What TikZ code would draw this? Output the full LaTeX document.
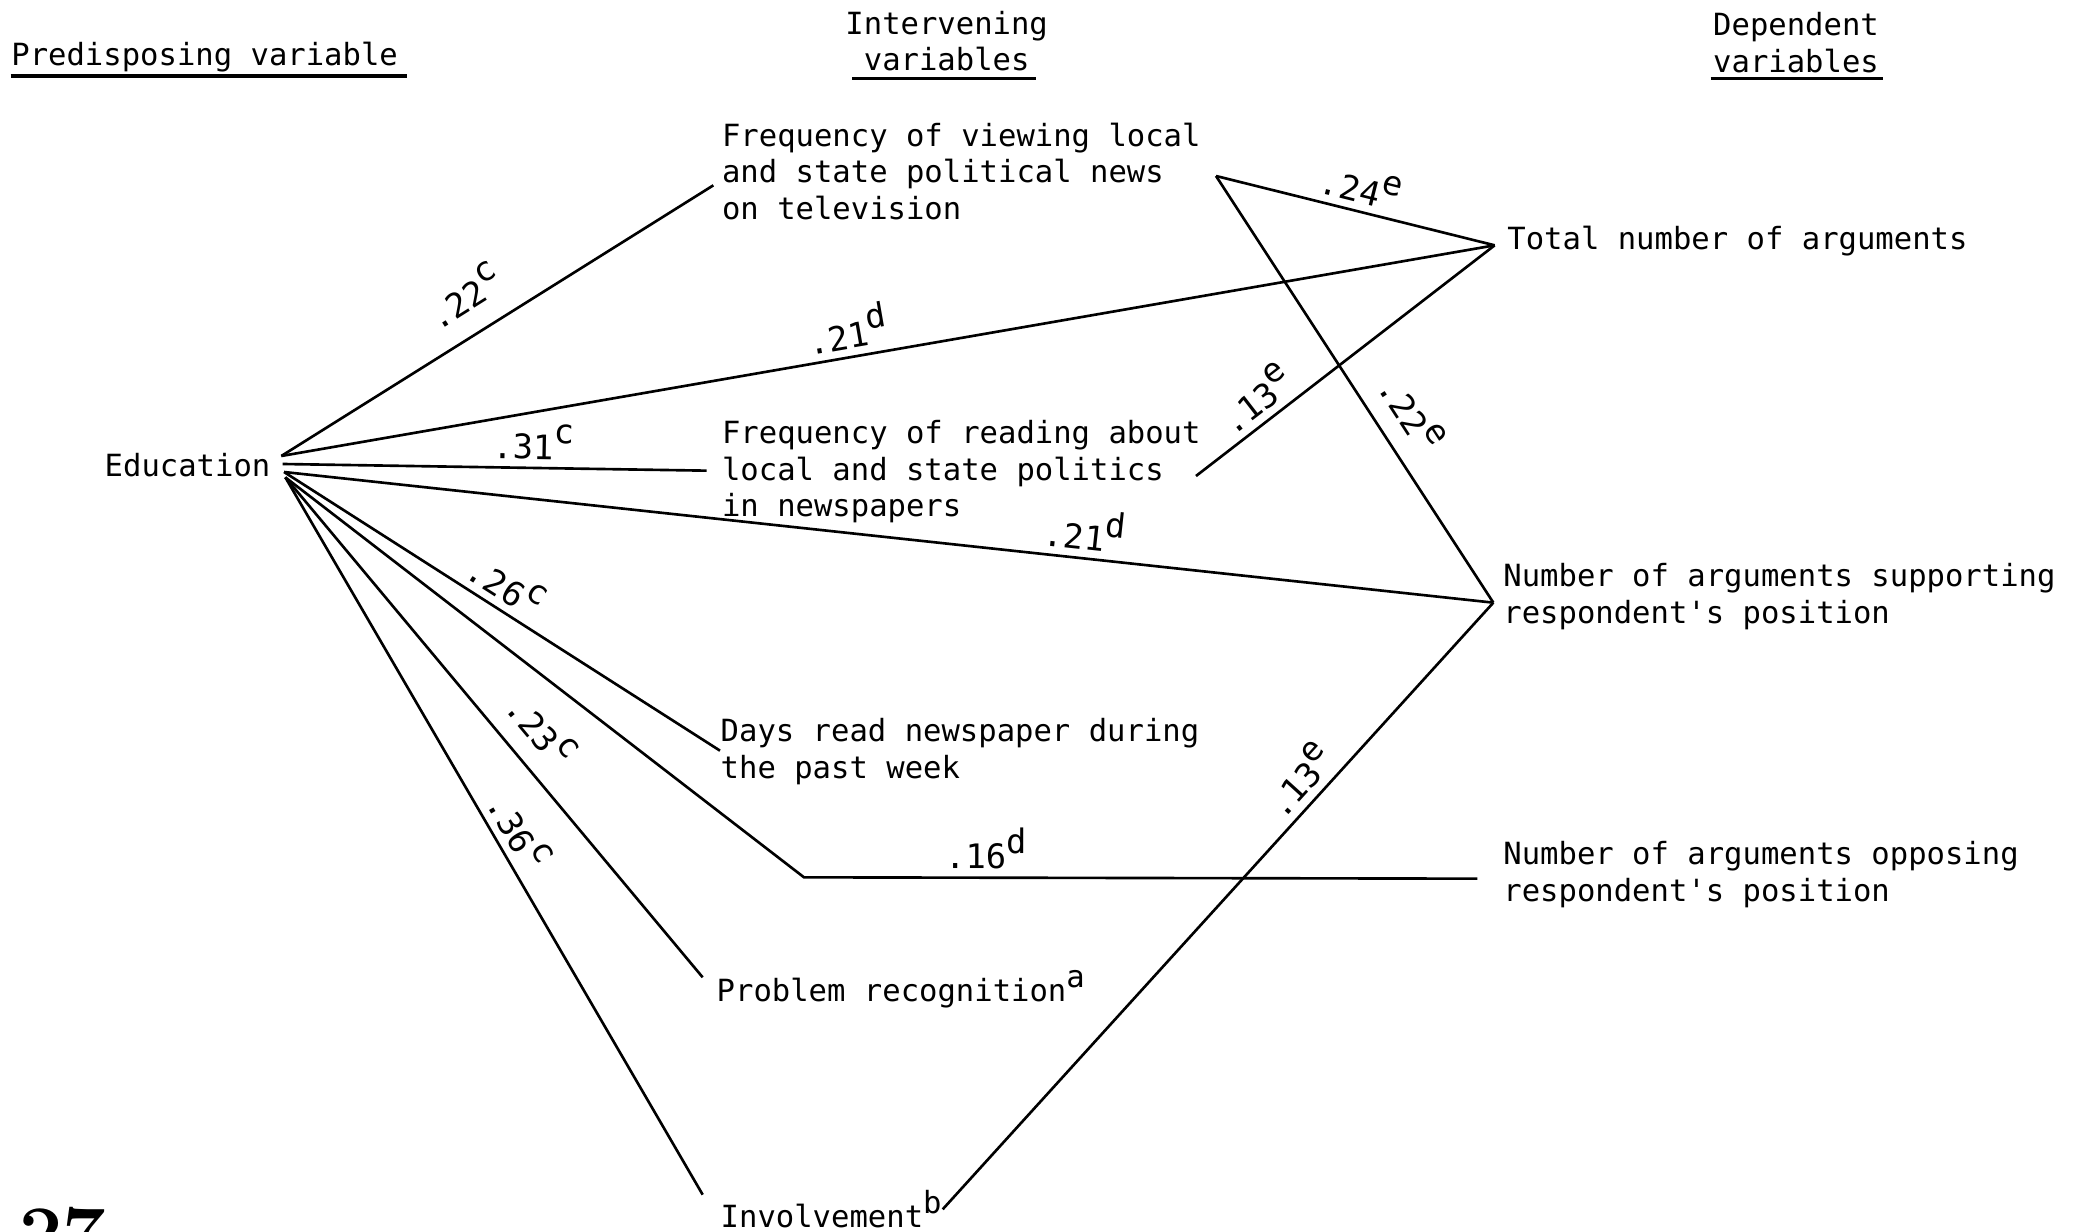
\documentclass[tikz,border=0pt]{standalone}
\usepackage{fontspec}
\setmonofont{DejaVu Sans Mono}
\newcommand{\spx}[1]{\raisebox{0.85ex}{#1}}
\begin{document}
\begin{tikzpicture}[x=0.0133333cm,y=-0.0133333cm,
  txt/.style={inner sep=0pt, align=left, font=\ttfamily\fontsize{8.7}{10.4}\selectfont},
  lab/.style={inner sep=2pt, font=\ttfamily\fontsize{9.6}{10}\selectfont, sloped, above},
  link/.style={line width=0.75pt},
  uline/.style={line width=0.9pt}]
\useasboundingbox (0,0) rectangle (1567.5,924);

% headers
\node[txt, anchor=west] (hpred) at (8,43) {Predisposing variable};
\draw[uline] (8,57) -- (305,57);
\node[txt, align=center] (hint) at (710,31) {Intervening\\variables};
\draw[uline] (639,59) -- (777,59);
\node[txt, align=center] (hdep) at (1347,32) {Dependent\\variables};
\draw[uline] (1283,59) -- (1412,59);

% variables
\node[txt, anchor=west] (edu) at (78,349) {Education};
\node[txt, anchor=west] (tv) at (541,128.5) {Frequency of viewing local\\and state political news\\on television};
\node[txt, anchor=west] (np) at (541,354) {Frequency of reading about\\local and state politics\\in newspapers};
\node[txt, anchor=west] (days) at (540,563.5) {Days read newspaper during\\the past week};
\node[txt, anchor=west] (prob) at (537,742) {Problem recognition\spx{a}};
\node[txt, anchor=west] (inv) at (540,907) {Involvement\spx{b}};
\node[txt, anchor=west] (tot) at (1130,181) {Total number of arguments};
\node[txt, anchor=west] (sup) at (1127,447.5) {Number of arguments supporting\\respondent's position};
\node[txt, anchor=west] (opp) at (1127,656) {Number of arguments opposing\\respondent's position};

\node[font=\bfseries\fontsize{22}{22}\selectfont, anchor=north west, inner sep=0pt] (pg) at (14,905) {27};

% connector end points
\coordinate (e1) at (211,342);
\coordinate (e2) at (212,348);
\coordinate (e3) at (213,354);
\coordinate (e4) at (214,358);
\coordinate (tvA) at (535,139);
\coordinate (tvB) at (912,132);
\coordinate (totA) at (1121,184);
\coordinate (npA) at (530,353);
\coordinate (npB) at (897,357);
\coordinate (supA) at (1120,452);
\coordinate (daysA) at (540,563);
\coordinate (bend) at (603,658);
\coordinate (oppA) at (1108,659);
\coordinate (probA) at (527,733);
\coordinate (invA) at (527,896);
\coordinate (invB) at (707,907);

% connectors
\draw[link] (e1) -- node[lab, pos=0.47, above=4pt] {.22\spx{c}} (tvA);
\draw[link] (e1) -- node[lab, pos=0.47] {.21\spx{d}} (totA);
\draw[link] (e2) -- node[lab, pos=0.59] {.31\spx{c}} (npA);
\draw[link] (e3) -- node[lab, pos=0.66] {.21\spx{d}} (supA);
\draw[link] (e3) -- node[lab, pos=0.48] {.26\spx{c}} (daysA);
\draw[link] (e4) -- (bend) -- node[lab, pos=0.27] {.16\spx{d}} (oppA);
\draw[link] (e4) -- node[lab, pos=0.55, above=3pt] {.23\spx{c}} (probA);
\draw[link] (e4) -- node[lab, pos=0.51] {.36\spx{c}} (invA);
\draw[link] (tvB) -- node[lab, pos=0.5] {.24\spx{e}} (totA);
\draw[link] (tvB) -- node[lab, pos=0.6, above=3pt] {.22\spx{e}} (supA);
\draw[link] (npB) -- node[lab, pos=0.25] {.13\spx{e}} (totA);
\draw[link] (invB) -- node[lab, pos=0.68] {.13\spx{e}} (supA);
\end{tikzpicture}
\end{document}
